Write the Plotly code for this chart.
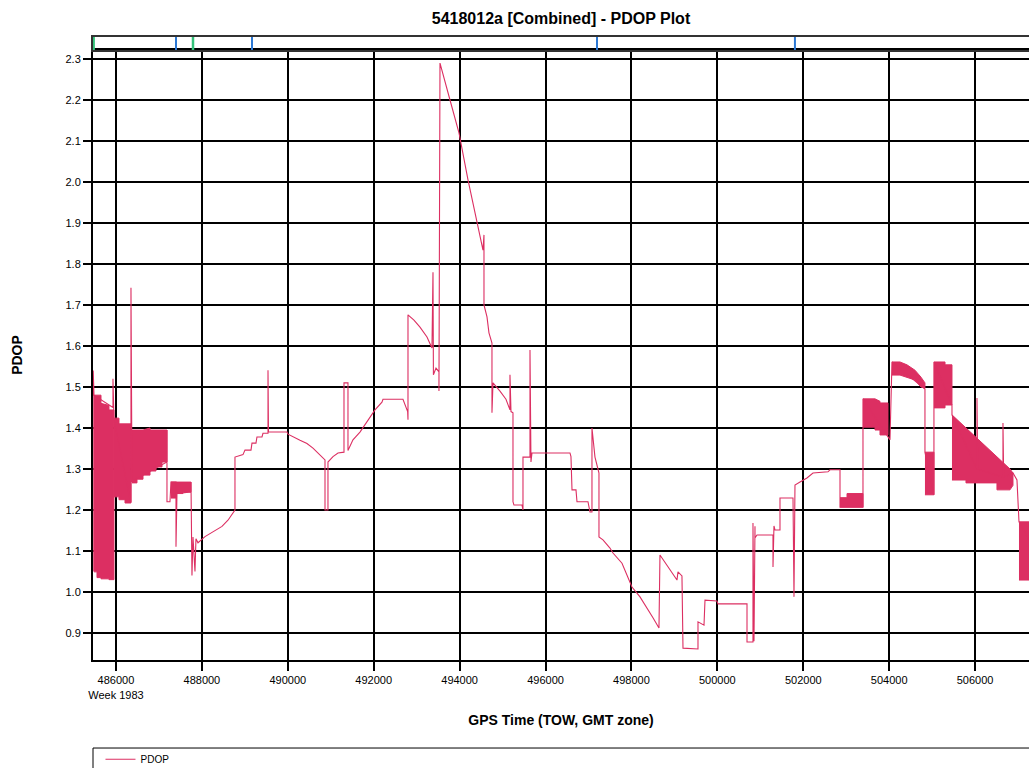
import plotly.graph_objects as go

# ---------------- data ----------------
pdop_tow = [
    485470, 485470, 485488,
    485930, 485930, 485953,
    486340, 486349, 486349, 486360, 486373,
    487187, 487187, 487187, 487257, 487280,
    487397, 487397, 487420, 487746, 487746, 487769, 487793, 487839, 487862,
    487909, 488072, 488235, 488375, 488468, 488607, 488700, 488770,
    488770, 488957, 489003, 489143, 489166, 489259, 489282, 489399, 489422,
    489539, 489539, 489550, 489981, 490004, 490284, 490446, 490586, 490749,
    490866, 490866, 490935, 490935, 491052, 491168, 491308, 491308, 491401,
    491401, 491424, 491517, 491680, 491843, 492030, 492192, 492216, 492681,
    492728, 492790, 492798, 492798, 492937, 493077, 493240, 493356, 493380,
    493390, 493450, 493519, 493519, 493543, 493776, 493985, 494195, 494474,
    494544, 494567, 494567, 494637, 494683, 494753, 494753, 494777, 494940,
    495079, 495172, 495172, 495196, 495242, 495242, 495265, 495452, 495475,
    495475, 495638, 495638, 495661, 495684, 496569, 496592, 496616, 496709,
    496732, 496988, 497035, 497081, 497081, 497151, 497244, 497244, 497337,
    497500, 497570, 497780, 498012, 498199, 498501, 498641, 498664, 498827,
    499060, 499083, 499176, 499200, 499549, 499549, 499689, 499712, 499991,
    500015, 500690, 500690, 500829, 500829, 500853, 500876, 500876, 500923,
    501295, 501295, 501318, 501342, 501458, 501458, 501761, 501784, 501807,
    501924, 502086, 502226, 502389, 502575, 502622, 502855, 502855,
    503390, 503390,
    503972, 504019, 504065,
    504833, 504833,
    505042, 505042,
    505462, 505462, 506044, 506044, 506060, 506649, 506649, 506665, 506882,
    506975, 507022, 507400,
]
pdop_val = [
    1.05, 1.54, 1.48,
    1.45, 1.52, 1.42,
    1.22, 1.22, 1.742, 1.476, 1.27,
    1.317, 1.395, 1.22, 1.22, 1.268,
    1.268, 1.11, 1.24, 1.244, 1.268, 1.04, 1.134, 1.05, 1.13,
    1.12, 1.135, 1.145, 1.155, 1.16, 1.175, 1.19, 1.2,
    1.329, 1.335, 1.346, 1.346, 1.363, 1.363, 1.378, 1.378, 1.387,
    1.387, 1.541, 1.39, 1.39, 1.385, 1.37, 1.362, 1.351, 1.334,
    1.322, 1.2, 1.2, 1.317, 1.33, 1.339, 1.341, 1.51, 1.51,
    1.345, 1.351, 1.371, 1.39, 1.415, 1.444, 1.463, 1.47, 1.47,
    1.456, 1.44, 1.42, 1.676, 1.663, 1.646, 1.622, 1.595, 1.78,
    1.53, 1.546, 1.537, 1.49, 2.29, 2.2, 2.12, 2.005, 1.87,
    1.834, 1.871, 1.7, 1.671, 1.632, 1.607, 1.437, 1.51, 1.49,
    1.47, 1.444, 1.53, 1.44, 1.437, 1.22, 1.212, 1.212, 1.2,
    1.329, 1.329, 1.59, 1.317, 1.339, 1.339, 1.33, 1.249, 1.249,
    1.22, 1.22, 1.195, 1.195, 1.4, 1.329, 1.29, 1.134, 1.127,
    1.107, 1.095, 1.07, 1.012, 0.988, 0.937, 0.912, 1.09, 1.066,
    1.029, 1.049, 1.039, 0.863, 0.861, 0.927, 0.919, 0.98, 0.978,
    0.971, 0.971, 0.878, 0.878, 1.168, 0.88, 1.16, 1.132, 1.139,
    1.139, 1.061, 1.161, 1.151, 1.151, 1.229, 1.229, 0.988, 1.261,
    1.268, 1.278, 1.29, 1.292, 1.293, 1.298, 1.298, 1.207,
    1.207, 1.471,
    1.378, 1.371, 1.561,
    1.495, 1.341,
    1.237, 1.561,
    1.456, 1.432, 1.30, 1.473, 1.30, 1.28, 1.412, 1.28, 1.29,
    1.273, 1.171, 1.10,
]

# dense (rapidly alternating) stretches: time, upper and lower envelope
band_a1_tow = [485488, 485558, 485558, 485651, 485651, 485837, 485837, 485953]
band_a1_hi = [1.48, 1.48, 1.48, 1.48, 1.46, 1.455, 1.444, 1.444]
band_a1_lo = [1.049, 1.049, 1.035, 1.035, 1.032, 1.032, 1.03, 1.03]

band_a2_tow = [485953, 486070, 486070, 486210, 486210, 486349]
band_a2_hi = [1.424, 1.424, 1.41, 1.41, 1.41, 1.41]
band_a2_lo = [1.232, 1.232, 1.225, 1.225, 1.217, 1.217]

band_a3_tow = [486373, 486489, 486489, 486629, 486629, 486792, 486792,
               486931, 486931, 487071, 487071, 487187]
band_a3_hi = [1.395, 1.395, 1.395, 1.395, 1.395, 1.4, 1.395,
              1.395, 1.395, 1.395, 1.395, 1.395]
band_a3_lo = [1.266, 1.266, 1.275, 1.275, 1.285, 1.285, 1.295,
              1.295, 1.305, 1.305, 1.317, 1.317]

band_a4_tow = [487280, 487397, 487397, 487560, 487560, 487746]
band_a4_hi = [1.268, 1.268, 1.268, 1.268, 1.268, 1.268]
band_a4_lo = [1.229, 1.229, 1.24, 1.24, 1.244, 1.244]

band_b1_tow = [502855, 503018, 503018, 503390]
band_b1_hi = [1.23, 1.23, 1.24, 1.24]
band_b1_lo = [1.207, 1.207, 1.207, 1.207]

band_b2_tow = [503390, 503670, 503670, 503786, 503786, 503972]
band_b2_hi = [1.471, 1.471, 1.471, 1.465, 1.461, 1.461]
band_b2_lo = [1.402, 1.402, 1.395, 1.395, 1.383, 1.383]

band_b3_tow = [504065, 504252, 504414, 504600, 504740, 504833]
band_b3_hi = [1.561, 1.561, 1.554, 1.541, 1.524, 1.51]
band_b3_lo = [1.529, 1.529, 1.524, 1.517, 1.5, 1.497]

band_b4_tow = [504833, 505042]
band_b4_hi = [1.341, 1.341]
band_b4_lo = [1.237, 1.237]

band_b5_tow = [505042, 505300, 505300, 505462]
band_b5_hi = [1.561, 1.561, 1.554, 1.554]
band_b5_lo = [1.449, 1.449, 1.456, 1.456]

band_b6_tow = [505462, 505788, 505788, 506509, 506509, 506812, 506882]
band_b6_hi = [1.432, 1.40, 1.40, 1.33, 1.33, 1.30, 1.29]
band_b6_lo = [1.273, 1.273, 1.266, 1.266, 1.249, 1.249, 1.26]

band_b7_tow = [507022, 507400]
band_b7_hi = [1.171, 1.171]
band_b7_lo = [1.029, 1.029]

bands = [
    (band_a1_tow, band_a1_hi, band_a1_lo),
    (band_a2_tow, band_a2_hi, band_a2_lo),
    (band_a3_tow, band_a3_hi, band_a3_lo),
    (band_a4_tow, band_a4_hi, band_a4_lo),
    (band_b1_tow, band_b1_hi, band_b1_lo),
    (band_b2_tow, band_b2_hi, band_b2_lo),
    (band_b3_tow, band_b3_hi, band_b3_lo),
    (band_b4_tow, band_b4_hi, band_b4_lo),
    (band_b5_tow, band_b5_hi, band_b5_lo),
    (band_b6_tow, band_b6_hi, band_b6_lo),
    (band_b7_tow, band_b7_hi, band_b7_lo),
]

event_blue_tow = [487397, 489166, 497198, 501806]
event_green_tow = [485480, 487793]

x_tick_vals = [486000, 488000, 490000, 492000, 494000, 496000,
               498000, 500000, 502000, 504000, 506000]
x_tick_text = ["486000<br>Week 1983", "488000", "490000", "492000", "494000",
               "496000", "498000", "500000", "502000", "504000", "506000"]
y_tick_vals = [0.9, 1.0, 1.1, 1.2, 1.3, 1.4, 1.5, 1.6, 1.7, 1.8, 1.9,
               2.0, 2.1, 2.2, 2.3]

# ---------------- figure ----------------
COLOR = "#DC2F62"
FONT = "Liberation Sans, Arial, sans-serif"

fig = go.Figure()

for tow, hi, lo in bands:
    fig.add_trace(go.Scatter(
        x=list(tow) + list(tow)[::-1],
        y=list(hi) + list(lo)[::-1],
        mode="lines", fill="toself", fillcolor=COLOR,
        line=dict(color=COLOR, width=1),
        showlegend=False, hoverinfo="skip", legendgroup="pdop",
    ))

fig.add_trace(go.Scatter(
    x=pdop_tow, y=pdop_val, mode="lines", name="PDOP",
    line=dict(color=COLOR, width=1.1), legendgroup="pdop",
))


def event_xy(tows):
    xs, ys = [], []
    for t in tows:
        xs += [t, t, None]
        ys += [0, 1, None]
    return xs, ys


bx, by = event_xy(event_blue_tow)
gx, gy = event_xy(event_green_tow)
fig.add_trace(go.Scatter(x=bx, y=by, mode="lines", xaxis="x2", yaxis="y2",
                         line=dict(color="#2B78D4", width=2),
                         showlegend=False, hoverinfo="skip"))
fig.add_trace(go.Scatter(x=gx, y=gy, mode="lines", xaxis="x2", yaxis="y2",
                         line=dict(color="#34C27A", width=2.5),
                         showlegend=False, hoverinfo="skip"))

main_top = 610 / 623

fig.update_layout(
    width=1029, height=768,
    margin=dict(l=93, r=0, t=37, b=108, autoexpand=False),
    paper_bgcolor="white", plot_bgcolor="white",
    font=dict(family=FONT, size=11, color="black"),
    title=dict(text="<b>5418012a [Combined] - PDOP Plot</b>",
               x=0.5, xref="paper", xanchor="center",
               y=1 - 18 / 768, yref="container", yanchor="middle",
               font=dict(family=FONT, size=16, color="black")),
    xaxis=dict(
        domain=[0, 1], range=[485465, 507255], anchor="y",
        tickmode="array", tickvals=x_tick_vals, ticktext=x_tick_text,
        showgrid=True, gridcolor="black", gridwidth=1.5,
        ticks="outside", ticklen=9, tickwidth=1.5, tickcolor="black",
        showline=True, linecolor="black", linewidth=2, mirror=True,
        zeroline=False,
        tickfont=dict(family=FONT, size=11, color="black"),
        title=dict(text="<b>GPS Time (TOW, GMT zone)</b>",
                   font=dict(family=FONT, size=14, color="black"),
                   standoff=16),
    ),
    yaxis=dict(
        domain=[0, main_top], range=[0.834, 2.322], anchor="x",
        tickmode="array", tickvals=y_tick_vals,
        ticktext=["%.1f" % v for v in y_tick_vals],
        showgrid=True, gridcolor="black", gridwidth=1.5,
        ticks="outside", ticklen=8, tickwidth=1.5, tickcolor="black",
        showline=True, linecolor="black", linewidth=2, mirror=True,
        zeroline=False,
        tickfont=dict(family=FONT, size=11, color="black"),
        title=dict(text="<b>PDOP</b>",
                   font=dict(family=FONT, size=14, color="black"),
                   standoff=40),
    ),
    xaxis2=dict(
        domain=[0, 1], anchor="y2", matches="x", range=[485465, 507255],
        showticklabels=False, ticks="", showgrid=False, zeroline=False,
        showline=True, linecolor="#333333", linewidth=1.5, mirror=True,
    ),
    yaxis2=dict(
        domain=[main_top, 1], anchor="x2", range=[0, 1],
        showticklabels=False, ticks="", showgrid=False, zeroline=False,
        showline=True, linecolor="#333333", linewidth=1.5, mirror=True,
    ),
    showlegend=True,
    legend=dict(x=0.008, y=-0.136, xanchor="left", yanchor="top",
                orientation="h", bgcolor="rgba(0,0,0,0)",
                font=dict(family=FONT, size=10, color="black"),
                itemwidth=30, tracegroupgap=0),
    shapes=[dict(type="rect", xref="paper", yref="paper",
                 x0=0, x1=1.05, y0=-0.1413, y1=-0.30,
                 line=dict(color="black", width=1), fillcolor="rgba(0,0,0,0)",
                 layer="above")],
)

fig.write_html(
    "out.html",
    config={"displayModeBar": False},
    post_script="document.body.style.margin='0';"
                "document.body.style.overflow='hidden';",
)
